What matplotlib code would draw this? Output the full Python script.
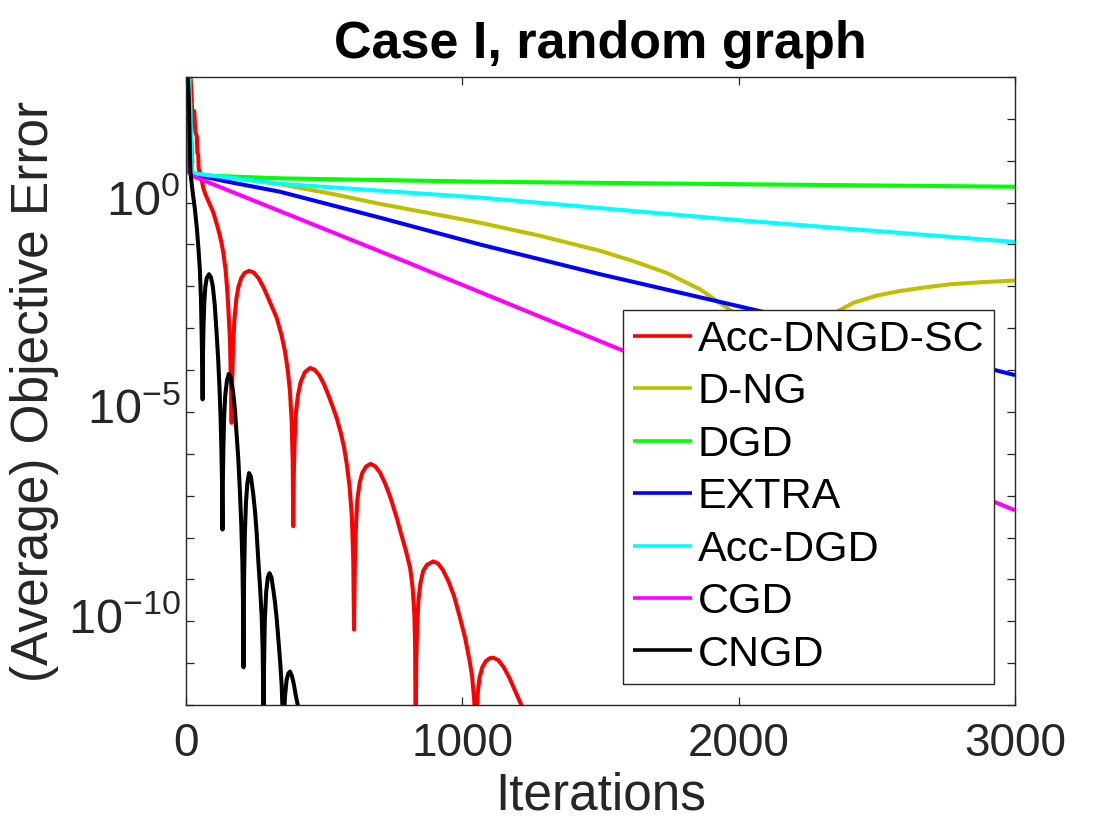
import matplotlib
matplotlib.use("Agg")
import matplotlib.pyplot as plt
from matplotlib.transforms import ScaledTranslation
import numpy as np

# ---------------- data (iteration, log10 of objective error)
acc_dngd_sc_it = [0, 12, 19, 22, 30, 34, 39, 41, 44, 46, 52, 62, 70, 80, 90, 98, 106, 115, 122, 128, 135, 143, 148, 152, 156, 159, 161, 163,
                  165, 167, 170, 175, 182, 190, 200, 212, 228, 245, 262, 280, 300, 315, 328, 345, 358, 368, 376, 382, 386,
                  388, 390, 393, 398, 405, 415, 430, 449, 465, 482, 500, 520, 545, 560, 572, 582, 592, 600, 605,
                  608, 611, 615, 620, 628, 638, 652, 668, 685, 702, 720, 740, 763, 780, 795, 811, 820, 826, 829,
                  831, 833, 836, 841, 848, 858, 872, 895, 912, 930, 950, 970, 992, 1010, 1025, 1035, 1043, 1048,
                  1050, 1052, 1056, 1062, 1072, 1085, 1100, 1112, 1130, 1150, 1170, 1190, 1210, 1222]
acc_dngd_sc_lg = [4.0, 3.3, 2.78, 2.22, 2.18, 1.67, 1.59, 1.19, 1.15, 0.79, 0.71, 0.36, 0.2, 0.05, -0.1, -0.22, -0.4, -0.6, -0.78, -0.95, -1.2, -1.6, -2.0, -2.4, -2.9, -3.3, -3.9, -4.4,
                  -5.26, -4.3, -3.5, -2.8, -2.3, -2.0, -1.8, -1.68, -1.63, -1.67, -1.8, -2.02, -2.32, -2.55, -2.75, -3.15, -3.55, -4.0, -4.5, -5.2, -6.2,
                  -7.73, -6.5, -5.7, -5.0, -4.6, -4.28, -4.05, -3.95, -3.99, -4.12, -4.35, -4.68, -5.14, -5.5, -5.85, -6.26, -6.8, -7.5, -8.5,
                  -10.2, -8.6, -7.7, -7.1, -6.7, -6.45, -6.3, -6.24, -6.3, -6.45, -6.7, -7.05, -7.54, -7.95, -8.3, -8.73, -9.2, -9.8, -10.6,
                  -13.0, -11.0, -10.2, -9.5, -9.1, -8.8, -8.65, -8.57, -8.62, -8.78, -9.05, -9.4, -9.93, -10.4, -10.9, -11.3, -11.9, -12.5,
                  -13.0, -12.3, -11.7, -11.35, -11.1, -10.95, -10.88, -10.87, -10.93, -11.1, -11.35, -11.65, -11.95, -12.1]

dng_it = [0, 12, 22, 100, 200, 340, 520, 702, 880, 1064, 1280, 1498, 1620, 1740, 1860, 1957, 1993, 2050, 2100, 2135,
          2168, 2200, 2235, 2290, 2343, 2416, 2500, 2584, 2680, 2765, 2880, 3000]
dng_lg = [4.0, 3.0, 0.70, 0.63, 0.56, 0.44, 0.22, -0.03, -0.25, -0.48, -0.79, -1.15, -1.40, -1.68, -2.07, -2.51, -2.68, -3.1, -3.8, -4.8,
          -7.0, -4.6, -3.7, -3.0, -2.65, -2.39, -2.22, -2.11, -2.02, -1.95, -1.90, -1.86]

dgd_it = [0, 12, 22, 98, 340, 702, 1064, 2000, 3000]
dgd_lg = [4.0, 3.0, 0.70, 0.64, 0.58, 0.54, 0.50, 0.44, 0.38]

extra_it = [0, 12, 22, 150, 340, 702, 1064, 1498, 2102, 3000]
extra_lg = [4.0, 3.0, 0.68, 0.50, 0.26, -0.36, -1.0, -1.71, -2.63, -4.12]

acc_dgd_it = [0, 12, 22, 340, 1064, 2000, 3000]
acc_dgd_lg = [4.0, 3.0, 0.70, 0.45, 0.12, -0.42, -0.94]

cgd_it = [0, 3, 6, 22, 787, 1498, 3000]
cgd_lg = [2.07, 1.4, 0.75, 0.64, -1.39, -3.31, -7.35]

cngd_it = [0, 10, 16, 25, 32, 39, 45, 50, 54, 57, 59,
           60, 61, 63, 66, 70, 75, 83, 90, 97, 104, 111, 116, 121, 125, 128, 130,
           132, 133, 135, 138, 142, 148, 155, 162, 170, 177, 183, 189, 195, 200, 204, 206,
           208, 210, 213, 217, 222, 228, 235, 243, 250, 256, 262, 268, 274, 277, 279,
           280, 282, 285, 290, 296, 302, 309, 316, 322, 328, 335, 341, 346, 350,
           352, 354, 358, 364, 370, 376, 383, 390, 398, 406]
cngd_lg = [4.0, 2.5, 0.71, 0.2, -0.15, -0.6, -1.1, -1.6, -2.3, -3.3, -4.0,
           -4.7, -3.8, -3.0, -2.4, -2.0, -1.8, -1.71, -1.78, -2.0, -2.45, -3.15, -3.7, -4.4, -5.14, -5.9, -6.6,
           -7.81, -6.8, -5.9, -5.1, -4.6, -4.25, -4.09, -4.18, -4.5, -4.95, -5.54, -6.1, -6.9, -7.7, -8.6, -9.5,
           -11.1, -9.0, -7.9, -7.15, -6.7, -6.46, -6.55, -6.95, -7.4, -7.93, -8.6, -9.2, -9.93, -10.6, -11.5,
           -13.0, -11.2, -10.0, -9.3, -8.95, -8.85, -8.95, -9.25, -9.55, -9.93, -10.5, -11.0, -11.52, -12.3,
           -13.0, -12.4, -11.8, -11.4, -11.25, -11.2, -11.3, -11.5, -11.8, -12.05]

series_names = ["Acc-DNGD-SC", "D-NG", "DGD", "EXTRA", "Acc-DGD", "CGD", "CNGD"]
series_it = [acc_dngd_sc_it, dng_it, dgd_it, extra_it, acc_dgd_it, cgd_it, cngd_it]
series_lg = [acc_dngd_sc_lg, dng_lg, dgd_lg, extra_lg, acc_dgd_lg, cgd_lg, cngd_lg]
series_colors = ["#FF0000", "#BFBF00", "#00FF00", "#0000FF", "#00FFFF", "#FF00FF", "#000000"]

x_ticks = [0, 1000, 2000, 3000]
y_tick_exps = list(range(-12, 4))
y_label_exps = [0, -5, -10]

# ---------------- style
plt.rcParams['font.family'] = ['Liberation Sans', 'DejaVu Sans']
plt.rcParams['mathtext.fontset'] = 'custom'
plt.rcParams['mathtext.rm'] = 'Liberation Sans'
plt.rcParams['mathtext.it'] = 'Liberation Sans:italic'
plt.rcParams['mathtext.bf'] = 'Liberation Sans:bold'

axcol = "#262626"
fig = plt.figure(figsize=(11.2, 8.4), dpi=100)
ax = fig.add_axes([0.1661, 0.1607, 0.7402, 0.7476])

for name, it, lg, col in zip(series_names, series_it, series_lg, series_colors):
    ax.plot(it, 10.0 ** np.asarray(lg), color=col, lw=2.9, label=name,
            solid_joinstyle='round', solid_capstyle='butt')

ax.set_yscale('log')
ax.set_xlim(0, 3000)
ax.set_ylim(1e-12, 1e3)

ax.set_xticks(x_ticks)
ax.set_xticklabels([str(v) for v in x_ticks])
ax.set_yticks([10.0 ** e for e in y_tick_exps])
ax.set_yticklabels([r'$\mathregular{10^{%d}}$' % e if e in y_label_exps else '' for e in y_tick_exps])
ax.yaxis.set_minor_locator(matplotlib.ticker.NullLocator())

ax.tick_params(axis='both', which='major', direction='in', length=5.8, width=0.9,
               color=axcol, labelcolor=axcol, labelsize=33, top=True, right=True)
ax.tick_params(axis='x', pad=12)
ax.tick_params(axis='y', pad=4, labelsize=35)
for s in ax.spines.values():
    s.set_color(axcol)
    s.set_linewidth(1.0)

# nudge y tick labels slightly upward (MATLAB-like placement)
shift = ScaledTranslation(0, 6 / 100.0, fig.dpi_scale_trans)
for lab in ax.get_yticklabels():
    lab.set_transform(lab.get_transform() + shift)

ax.set_xlabel("Iterations", fontsize=37, color=axcol, labelpad=4)
ax.set_ylabel("(Average) Objective Error", fontsize=37, color=axcol, labelpad=6)
ax.set_title("Case I, random graph", fontsize=37.5, fontweight='bold', color='black', pad=14)

leg = ax.legend(loc='lower right', bbox_to_anchor=(0.9747, 0.0334), bbox_transform=ax.transAxes,
                borderaxespad=0, fontsize=31, frameon=True, fancybox=False, framealpha=1,
                edgecolor=axcol, handlelength=1.36, handletextpad=0.15, borderpad=0.22,
                labelspacing=0.29)
leg.get_frame().set_linewidth(1.0)
for t in leg.get_texts():
    t.set_color('black')
for h in leg.get_lines():
    h.set_linewidth(2.6)

fig.savefig("out.png", dpi=100)
